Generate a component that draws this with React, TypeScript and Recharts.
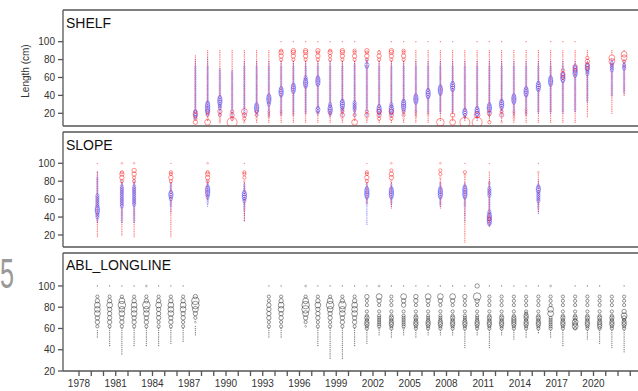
import React from 'react';
import { ScatterChart, Scatter, XAxis, YAxis } from 'recharts';

// Year ticks on every panel border; labels on every third year
const YEAR_TICKS = [
  1978, 1979, 1980, 1981, 1982, 1983, 1984, 1985, 1986, 1987, 1988, 1989, 1990, 1991, 1992, 1993,
  1994, 1995, 1996, 1997, 1998, 1999, 2000, 2001, 2002, 2003, 2004, 2005, 2006, 2007, 2008, 2009,
  2010, 2011, 2012, 2013, 2014, 2015, 2016, 2017, 2018, 2019, 2020, 2021, 2022, 2023,
];
const LABEL_YEARS = [1978, 1981, 1984, 1987, 1990, 1993, 1996, 1999, 2002, 2005, 2008, 2011, 2014, 2017, 2020];
const LENGTH_TICKS = [20, 40, 60, 80, 100];

// Size codes per 2 cm length bin (0 = empty). SHELF/SLOPE bins start at 10 cm, ABL at 20 cm.
const SHELF_YEARS = [
  1987, 1988, 1989, 1990, 1991, 1992, 1993, 1994, 1995, 1996, 1997, 1998, 1999, 2000, 2001, 2002, 2003,
  2004, 2005, 2006, 2007, 2008, 2009, 2010, 2011, 2012, 2013, 2014, 2015, 2016, 2017, 2018, 2019, 2021, 2022,
];
const SHELF_FEMALE = [
  '40304 03011 11111 11111 11111 11111 11111 111',
  '51203 03011 11111 11111 11111 11111 11111 11111 1',
  '21203 04011 11111 11111 11111 11111 11111 11111 1',
  '71304 03011 11111 11111 11111 11111 11111 11111 1',
  '21304 05011 11111 11111 11111 11111 11111 11111 1',
  '11203 03011 11111 11111 11111 11111 11111 11111 1',
  '11122 22111 11111 11111 11111 11111 11111 11111 1',
  '11112 22111 11111 11111 11111 11111 11111 30404 30000 1',
  '11112 21111 11111 11111 11111 11111 11111 30404 40000 1',
  '11111 21111 11111 11111 11111 11111 11111 30404 40000 1',
  '11111 21111 11111 11111 11111 11111 11111 30403 40000 1',
  '11112 22111 11111 11111 11111 11111 11111 30304 30000 1',
  '11204 03111 11111 11111 11111 11111 11111 30404 40000 1',
  '51203 02111 11111 11111 11111 11111 11111 30403 30000 1',
  '11204 03011 11111 11111 11111 11111 11111 30403 40000',
  '11304 04011 11111 11111 11111 11111 11111 30403 10000',
  '11304 04011 11111 11111 11111 11111 11111 30404 40000 1',
  '11203 03011 11111 11111 11111 11111 11111 30403 30000 1',
  '11122 22111 11111 11111 11111 11111 11111 11111 10000 1',
  '11112 21111 11111 11111 11111 11111 11111 11111 10000 1',
  '61111 11111 11111 11111 11111 11111 11111 11111 10000 1',
  '51114 11111 11111 11111 11111 11111 11111 11111 1',
  '71121 11111 11111 11111 11111 11111 11111 11111 1',
  '71025 01111 11111 11111 11111 11111 11111 11111 10000 1',
  '31112 41111 11111 11111 11111 11111 11111 11111 10000 1',
  '21104 03111 11111 11111 11111 11111 11111 11111 10000 1',
  '11222 22111 11111 11111 11111 11111 11111 11111 1',
  '11112 22211 11111 11111 11111 11111 11111 11111 10000 1',
  '11111 11111 11111 11111 11111 11111 11111 11111 1',
  '11111 11111 11111 11111 11111 11111 11111 11111 10000 1',
  '11111 11111 11111 11111 11111 30403 01111 11111 10000 1',
  '11111 11111 11111 11111 11111 11203 04011 11111 10000 1',
  '00011 11111 11111 11111 11111 11111 30404 03111 10000',
  '00000 11111 11111 11111 11111 11111 11205 05011 10000',
  '00000 00000 00000 11111 11111 11111 11203 05050 1',
];
const SHELF_MALE = [
  '00233 43222 22222 22222 22222 22222 22111 1',
  '00012 34444 43222 22222 22222 22222 22111 11',
  '00012 22233 34443 22222 22222 22222 1',
  '00122 22222 22222 22222 22222 22221',
  '00012 22222 22222 22222 22222 22222 22111',
  '00012 23444 32222 22222 22222 22222 22111',
  '00012 22222 33444 32222 22222 22222 22111',
  '00001 22222 22222 34443 22222 22222 22111',
  '00001 12222 22222 22344 43222 22222 22111',
  '00000 12222 22222 22222 34443 32222 22111',
  '00001 23432 22222 22222 23444 32222 22111',
  '00012 34443 32222 22222 22222 22222 22111',
  '00012 22334 44322 22222 22222 22222 22111',
  '00012 22333 33222 22222 22222 22222 22211',
  '00012 22222 22222 22222 22222 22222 23422 2',
  '00012 34443 22222 22222 22222 22222 22111',
  '00012 34443 32222 22222 22222 22222 22111',
  '00001 22344 44322 22222 22222 22222 22111',
  '00001 12222 23444 32222 22222 22222 22111',
  '00000 12222 22223 44432 22222 22222 22111',
  '00000 12222 22222 23444 32222 22222 22111',
  '00000 12222 22222 22234 44322 22222 22111 00000 00000 1',
  '00123 44322 22222 22222 22222 22222 22111',
  '00123 44432 22222 22222 22222 22222 22111',
  '00012 23444 32222 22222 22222 22222 22111',
  '00012 22234 44322 22222 22222 22222 22111',
  '00001 22222 23444 32222 22222 22222 22111',
  '00001 22222 22222 34443 22222 22222 22111',
  '00000 12222 22222 22234 44322 22222 22111',
  '00000 12222 22222 22222 23444 32222 22111',
  '00000 12222 22222 22222 22234 44322 22111',
  '00000 01222 22222 22222 22222 23444 43211',
  '00000 00000 01222 22222 22222 22333 44321 1',
  '00000 00000 00000 22222 22222 22223 33332 1',
  '00000 00000 00000 01222 22222 22222 33322',
];

const SLOPE_YEARS = [1979, 1981, 1982, 1985, 1988, 1991, 2001, 2003, 2007, 2009, 2011, 2015];
const SLOPE_FEMALE = [
  '00001 11111 11111 11111 11111 11111 11111 11111 10000 1',
  '00000 11111 11111 11111 11111 11111 11111 30404 30000 2',
  '00001 11111 11111 11111 11111 11111 11111 30304 04000 2',
  '00001 11111 11111 11111 11111 11111 11111 30403 30000 1',
  '00000 00000 00000 00000 00000 11111 11111 30404 30000 2',
  '00000 00000 00011 11111 11111 11111 11111 20303 30000 1',
  '00000 00000 00000 00000 00011 11111 11111 30403 30000 1',
  '00000 00000 00000 00000 11111 11111 11111 20404 03000 2',
  '00000 00000 00000 00000 11111 11111 11112 11203 03000 2',
  '01111 11111 11111 11111 11111 11111 11111 11121 30000 1',
  '00000 00000 11223 22111 11111 11111 11112 11111 10000 1',
  '00000 00000 00000 00011 11111 11111 11111 11111 20000 1',
];
const SLOPE_MALE = [
  '00000 00000 00122 33344 43333 33322 22222 22211 1',
  '00000 00000 00122 22222 23333 33333 33322 1',
  '00000 00000 00122 22222 22333 33333 33322 11',
  '00000 00000 00000 00011 12222 33443 22222',
  '00000 00000 00000 00000 01122 23344 44322 1',
  '00000 00000 00011 11112 22223 34443 22221',
  '00000 00000 01111 11111 11222 23444 43221',
  '00000 00000 00000 00000 01122 23444 43221',
  '00000 00000 00000 00000 01222 23444 43221',
  '00000 00000 00011 11111 12222 23444 44321',
  '00000 00000 13444 44332 22222 22333 33222 1',
  '00000 00000 00000 00111 22223 33333 44321 1',
];

const ABL_YEARS = [
  1979, 1980, 1981, 1982, 1983, 1984, 1985, 1986, 1987, 1993, 1994, 1996, 1997, 1998, 1999, 2000, 2001,
  2002, 2003, 2004, 2005, 2006, 2007, 2008, 2009, 2010, 2011, 2012, 2013, 2014, 2015, 2016, 2017, 2018,
  2019, 2020, 2021, 2022,
];
const ABL_ALL = [
  '00000 00000 00000 01111 03040 40505 05040 30000 1',
  '00000 00000 00111 11111 13040 40404 05040 30000 1',
  '00000 00011 11111 11111 13040 40505 06050 30000 1',
  '00000 00000 00111 11111 13040 40505 05040 30000 1',
  '00000 00000 00111 11111 13040 40505 06040 30000 2',
  '00000 00000 00111 11111 13030 40404 05040 30000 1',
  '00000 00000 00011 11111 13040 40505 05040 30000 1',
  '00000 00000 00001 11111 13030 40405 05040 30000 1',
  '00000 00000 00000 00111 11020 30405 06060 40000',
  '00000 00000 00000 01111 13030 40404 04030 30000 1',
  '00000 00000 00000 01111 13030 40405 05040 30000 1',
  '00000 00000 00000 00000 02030 40506 06050 30000 2',
  '00000 00000 00111 11111 13030 40404 05040 30000 1',
  '00000 01111 11111 11111 13030 40405 06050 30000 1',
  '00000 01111 11111 11111 13040 40505 06040 30000 1',
  '00000 00000 00111 11111 13040 40505 05040 30000 1',
  '00000 00000 00011 11111 33443 43030 03030 40000 1',
  '00000 00000 00000 00111 23333 33030 03040 50000 2',
  '00000 00000 00000 01111 33443 43030 03030 30000 1',
  '00000 00000 00000 00111 23333 33030 04040 50000 1',
  '00000 00000 00000 01111 33443 43030 03040 40000 1',
  '00000 00000 00000 00111 33443 33030 03040 50000 1',
  '00000 00000 00000 00111 33443 33030 03040 50000 1',
  '00000 00000 00000 00111 33443 43030 03040 50000 1',
  '00000 00000 01111 11111 33443 33030 03030 40000 1',
  '00000 00000 00000 00111 33443 33030 03040 60000 4',
  '00000 00000 01111 11111 33443 43030 03030 30000 1',
  '00000 00000 00000 00111 33443 43030 03030 30000 1',
  '00000 00000 00000 11111 33444 43030 03030 30000 1',
  '00000 00000 00000 01111 33443 44330 03030 30000 1',
  '00000 00000 00000 00011 33443 43030 03030 30000 1',
  '00000 00000 00000 01111 33333 30505 03030 30000 2',
  '00000 00000 00111 11111 33443 43030 03030 30000',
  '00000 00000 00000 00000 35453 43030 03030 30000 1',
  '00000 00000 00000 11111 33443 43030 03030 30000 1',
  '00000 00000 00011 11111 34443 43030 03030 30000 1',
  '00000 00000 01111 11111 33443 43030 03030 30000',
  '00000 00001 11111 11111 33443 45040 03030 30000 1',
];

// Marker radius (px) for each size code; code 1 is a solid dot
const RADIUS = [0, 0.65, 0.9, 1.6, 2.2, 2.9, 3.8, 5.0];

type Pt = { x: number; y: number; s: number };

function decode(years: number[], profiles: string[], firstBin: number): Pt[] {
  const pts: Pt[] = [];
  years.forEach((yr, i) => {
    const codes = profiles[i].replace(/\s/g, '');
    for (let j = 0; j < codes.length; j++) {
      const s = Number(codes[j]);
      if (s > 0) pts.push({ x: yr + 0.5, y: firstBin + 2 * j, s });
    }
  });
  return pts;
}

const shelfF = decode(SHELF_YEARS, SHELF_FEMALE, 10);
const shelfM = decode(SHELF_YEARS, SHELF_MALE, 10);
const slopeF = decode(SLOPE_YEARS, SLOPE_FEMALE, 10);
const slopeM = decode(SLOPE_YEARS, SLOPE_MALE, 10);
const ablAll = decode(ABL_YEARS, ABL_ALL, 20);

const RED = 'rgba(255,0,0,0.55)';
const BLUE = 'rgba(0,0,255,0.42)';
const GREY = 'rgba(40,40,40,0.62)';

const ring = (color: string) => (props: any) => {
  const { cx, cy, payload } = props;
  if (cx == null || cy == null) return <g />;
  const r = RADIUS[payload.s];
  if (payload.s === 1) return <circle cx={cx} cy={cy} r={r} fill={color} stroke="none" />;
  return <circle cx={cx} cy={cy} r={r} fill="none" stroke={color} strokeWidth={payload.s === 2 ? 0.5 : 0.8} />;
};

const X_DOMAIN: [number, number] = [1976.694, 2024.449];
const AXIS_COLOR = '#555';
const FONT = 'Liberation Sans, Arial, Helvetica, sans-serif';

const XLabel = (props: any) => {
  const { x, y, payload } = props;
  if (!LABEL_YEARS.includes(payload.value)) return <g />;
  return (
    <text x={x} y={y + 9} textAnchor="middle" fontSize={10} fill="#333" fontFamily={FONT}>
      {payload.value}
    </text>
  );
};

type SeriesDef = { data: Pt[]; color: string; name: string };

function Panel(props: {
  top: number;
  topAxisH: number;
  plotH: number;
  bottomAxisH: number;
  yDomain: [number, number];
  series: SeriesDef[];
  labels: boolean;
}) {
  const { top, topAxisH, plotH, bottomAxisH, yDomain, series, labels } = props;
  const h = topAxisH + plotH + bottomAxisH;
  const line = { stroke: AXIS_COLOR, strokeWidth: 1.3 };
  return (
    <div style={{ position: 'absolute', left: 0, top }}>
      <ScatterChart width={700} height={h} margin={{ top: 0, right: 52, bottom: 0, left: 23 }}>
        <XAxis
          xAxisId="top"
          orientation="top"
          type="number"
          dataKey="x"
          domain={X_DOMAIN}
          ticks={YEAR_TICKS}
          allowDataOverflow
          height={topAxisH}
          tick={false}
          tickSize={topAxisH - 1}
          axisLine={line}
          tickLine={line}
        />
        <XAxis
          xAxisId="b"
          orientation="bottom"
          type="number"
          dataKey="x"
          domain={X_DOMAIN}
          ticks={YEAR_TICKS}
          allowDataOverflow
          height={bottomAxisH}
          tick={labels ? <XLabel /> : false}
          tickSize={5}
          axisLine={line}
          tickLine={line}
          interval={0}
        />
        <YAxis
          type="number"
          dataKey="y"
          domain={yDomain}
          ticks={LENGTH_TICKS}
          allowDataOverflow
          width={40}
          tickSize={5}
          tickMargin={3}
          axisLine={line}
          tickLine={line}
          tick={{ fontSize: 10, fill: '#333', fontFamily: FONT }}
          interval={0}
        />
        {series.map((s) => (
          <Scatter
            key={s.name}
            name={s.name}
            xAxisId="b"
            data={s.data}
            shape={ring(s.color)}
            isAnimationActive={false}
          />
        ))}
        <Scatter xAxisId="top" data={[]} isAnimationActive={false} />
      </ScatterChart>
    </div>
  );
}

export default function App() {
  return (
    <div
      style={{
        position: 'absolute',
        left: 0,
        top: 0,
        width: 638,
        height: 391,
        overflow: 'hidden',
        background: '#fff',
        fontFamily: FONT,
      }}
    >
      <Panel
        top={0}
        topAxisH={10}
        plotH={116}
        bottomAxisH={6}
        yDomain={[5.8, 135.4]}
        series={[
          { data: shelfM, color: BLUE, name: 'shelf-m' },
          { data: shelfF, color: RED, name: 'shelf-f' },
        ]}
        labels={false}
      />
      <Panel
        top={126}
        topAxisH={6}
        plotH={115}
        bottomAxisH={6}
        yDomain={[6.6, 134.9]}
        series={[
          { data: slopeM, color: BLUE, name: 'slope-m' },
          { data: slopeF, color: RED, name: 'slope-f' },
        ]}
        labels={false}
      />
      <Panel
        top={247}
        topAxisH={6}
        plotH={118}
        bottomAxisH={20}
        yDomain={[20, 131]}
        series={[{ data: ablAll, color: GREY, name: 'abl' }]}
        labels={true}
      />
      <svg
        width={638}
        height={391}
        style={{ position: 'absolute', left: 0, top: 0, pointerEvents: 'none' }}
      >
        <text x={66} y={28} fontSize={14} fill="#111" fontFamily={FONT}>SHELF</text>
        <text x={66} y={150} fontSize={14} fill="#111" fontFamily={FONT}>SLOPE</text>
        <text x={66} y={270} fontSize={14} fill="#111" fontFamily={FONT}>ABL_LONGLINE</text>
        <text
          x={28.5}
          y={71}
          fontSize={10}
          fill="#333"
          fontFamily={FONT}
          textAnchor="middle"
          transform="rotate(-90 28.5 71)"
        >
          Length (cm)
        </text>
        <text x={0} y={288} fontSize={42} fill="#999" fontFamily={FONT} transform="scale(0.6 1)">
          5
        </text>
      </svg>
    </div>
  );
}
